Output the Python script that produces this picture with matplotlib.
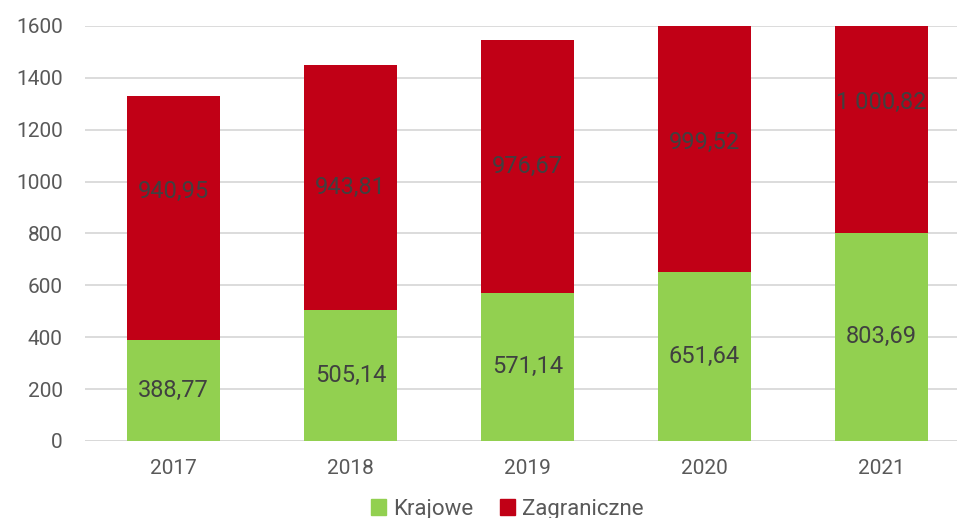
import numpy as np
import matplotlib
matplotlib.use("Agg")
import matplotlib.pyplot as plt
from matplotlib.patches import Patch

########## Data
years = ["2017", "2018", "2019", "2020", "2021"]
krajowe = [388.77, 505.14, 571.14, 651.64, 803.69]
zagraniczne = [940.95, 943.81, 976.67, 999.52, 1000.82]
yticks = [0, 200, 400, 600, 800, 1000, 1200, 1400, 1600]
series_names = ["Krajowe", "Zagraniczne"]

########## Style
green = "#92d050"
red = "#c10016"
grid_col = "#d9d9d9"
tick_col = "#595959"
label_col = "#404040"
plt.rcParams['font.family'] = ['Roboto', 'DejaVu Sans']


def fmt(v):
	s = "{:,.2f}".format(v)
	return s.replace(",", " ").replace(".", ",")


fig = plt.figure(figsize=(9.57, 5.18), dpi=100)
ax = fig.add_axes([85/957, 77/518, 885/957, 415/518])

x = np.arange(len(years))
w = 0.525
b1 = ax.bar(x, krajowe, w, color=green, zorder=3)
b2 = ax.bar(x, zagraniczne, w, bottom=krajowe, color=red, zorder=3)

# labels (2017 top label sits a bit higher in the original)
nudge = [27, 0, 0, 0, 0]
for i in range(len(years)):
	ax.annotate(fmt(krajowe[i]), (x[i], krajowe[i]/2), ha='center', va='center',
		fontsize=17, color=label_col, zorder=4)
	ax.annotate(fmt(zagraniczne[i]), (x[i], krajowe[i] + zagraniczne[i]/2),
		xytext=(0, nudge[i]*0.72), textcoords='offset points', ha='center', va='center',
		fontsize=17, color=label_col, zorder=4, annotation_clip=False)

ax.set_xlim(-0.5, len(years) - 0.5)
ax.set_ylim(0, 1600)
ax.set_yticks(yticks)
ax.set_yticklabels([str(t) for t in yticks])
ax.set_xticks(x)
ax.set_xticklabels(years)
ax.yaxis.grid(True, color=grid_col, lw=1.3, zorder=0)
for s in ax.spines.values():
	s.set_visible(False)
ax.axhline(0, color=grid_col, lw=1.3, zorder=2)
ax.tick_params(axis='y', length=0, pad=16, labelsize=15, labelcolor=tick_col)
ax.tick_params(axis='x', length=0, pad=13, labelsize=15, labelcolor=tick_col)

handles = [Patch(color=green), Patch(color=red)]
fig.legend(handles, series_names, loc='center', bbox_to_anchor=(507/957, 1 - 509/518),
	ncol=2, frameon=False, fontsize=16, labelcolor=tick_col, handlelength=0.7,
	handleheight=0.7, handletextpad=0.3, columnspacing=1.2)

fig.savefig("out.png", dpi=100)
